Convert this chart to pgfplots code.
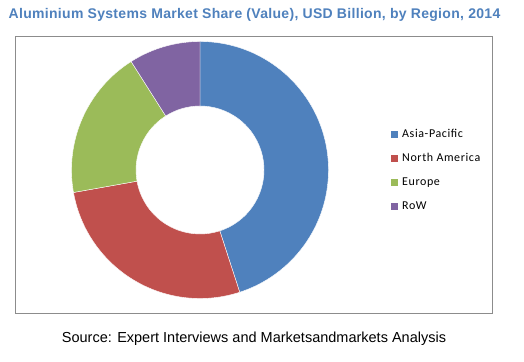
\documentclass[border=0pt]{standalone}
\usepackage{pgfplots}
\usepackage{pgfplotstable}
\pgfplotsset{compat=1.18}
\usepackage{fontspec}
\setmainfont{Liberation Sans}
\newfontfamily\legfont[LetterSpace=5]{Carlito}
\newfontfamily\titlefont[LetterSpace=2.2]{Liberation Sans}
\definecolor{cblue}{HTML}{4F81BD}
\definecolor{cred}{HTML}{C0504D}
\definecolor{cgreen}{HTML}{9BBB59}
\definecolor{cpurple}{HTML}{8064A2}
\definecolor{ctitle}{HTML}{4F81BD}
\definecolor{cframe}{HTML}{8C8C8C}

\pgfplotstableread{
region share
AsiaPacific 45.0
NorthAmerica 27.2
Europe 18.8
RoW 9.0
}\sharetable

% cumulative angles (clockwise from 12 o'clock)
\pgfplotstablegetelem{0}{share}\of\sharetable\let\sA\pgfplotsretval
\pgfplotstablegetelem{1}{share}\of\sharetable\let\sB\pgfplotsretval
\pgfplotstablegetelem{2}{share}\of\sharetable\let\sC\pgfplotsretval
\pgfplotstablegetelem{3}{share}\of\sharetable\let\sD\pgfplotsretval
\pgfmathsetmacro{\aZ}{90}
\pgfmathsetmacro{\aA}{\aZ-3.6*\sA}
\pgfmathsetmacro{\aB}{\aA-3.6*\sB}
\pgfmathsetmacro{\aC}{\aB-3.6*\sC}
\pgfmathsetmacro{\aD}{\aC-3.6*\sD}

\newcommand{\sector}[3]{% color, start, end
  \fill[#1,draw=white,line width=0.4pt] (axis cs:200,191) ++(#2:128.5pt)
    arc[start angle=#2,end angle=#3,radius=128.5pt]
    -- ++(#3:-64.5pt)
    arc[start angle=#3,end angle=#2,radius=64pt] -- cycle;}

\begin{document}
\begin{tikzpicture}
\fill[white] (0,0) rectangle (524pt,361pt);
\begin{axis}[
  x=1pt,y=1pt,xmin=0,xmax=524,ymin=0,ymax=361,
  at={(0,0)},anchor=south west,
  hide axis,clip=false,
]
\draw[cframe,line width=0.9pt] (axis cs:15.7,47.7) rectangle (axis cs:492.7,325);
\sector{cblue}{\aZ}{\aA}
\sector{cred}{\aA}{\aB}
\sector{cgreen}{\aB}{\aC}
\sector{cpurple}{\aC}{\aD}
\node[anchor=base,text=ctitle,font=\titlefont\bfseries\fontsize{14}{15}\selectfont,inner sep=0pt]
  at (axis cs:254.5,342) {Aluminium Systems Market Share (Value), USD Billion, by Region, 2014};
\node[anchor=base,font=\fontsize{14.5}{16}\selectfont,inner sep=0pt]
  at (axis cs:254,19) {Source: Expert Interviews and Marketsandmarkets Analysis};
% legend
\fill[cblue] (axis cs:390.7,223) rectangle (axis cs:397.7,230);
\fill[cred] (axis cs:390.7,199) rectangle (axis cs:397.7,206);
\fill[cgreen] (axis cs:390.7,175) rectangle (axis cs:397.7,182);
\fill[cpurple] (axis cs:390.7,151) rectangle (axis cs:397.7,158);
\node[anchor=base west,inner sep=0pt,font=\legfont\fontsize{12}{13}\selectfont] at (axis cs:402,223) {Asia-Pacific};
\node[anchor=base west,inner sep=0pt,font=\legfont\fontsize{12}{13}\selectfont] at (axis cs:402,199) {North America};
\node[anchor=base west,inner sep=0pt,font=\legfont\fontsize{12}{13}\selectfont] at (axis cs:402,175) {Europe};
\node[anchor=base west,inner sep=0pt,font=\legfont\fontsize{12}{13}\selectfont] at (axis cs:402,151) {RoW};
\end{axis}
\end{tikzpicture}
\end{document}
